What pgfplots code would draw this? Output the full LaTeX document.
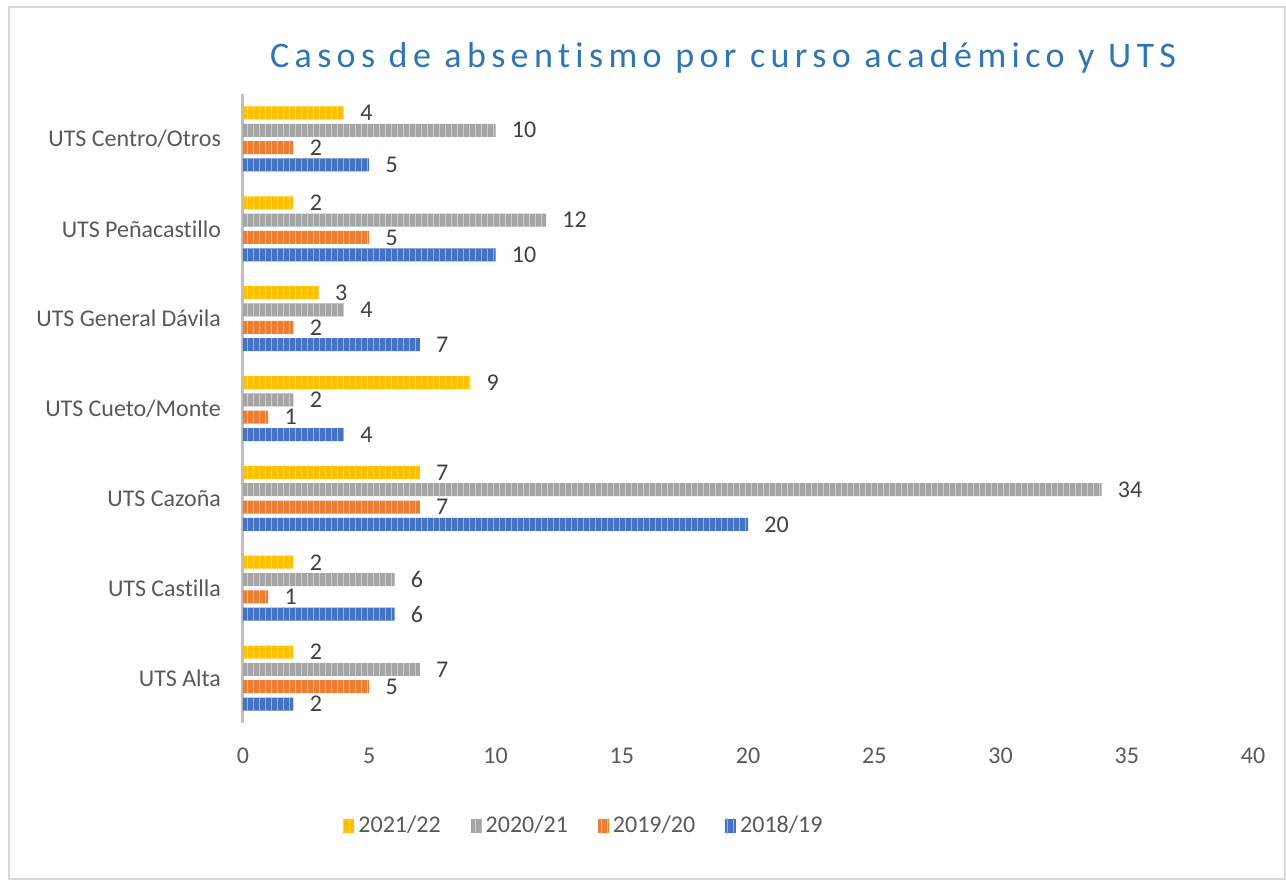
\documentclass[border=0pt]{standalone}
\usepackage{fontspec}
\setmainfont{Carlito}[Ligatures=NoCommon]
\usepackage{pgfplots}
\pgfplotsset{compat=1.18}
\usetikzlibrary{patterns}
\definecolor{cyel}{HTML}{FFC000}
\definecolor{cgray}{HTML}{A5A5A5}
\definecolor{cora}{HTML}{ED7D31}
\definecolor{cblue}{HTML}{4472C4}
\definecolor{ctitle}{HTML}{2E75B6}
\definecolor{ctxt}{HTML}{595959}
\definecolor{clab}{HTML}{404040}
\begin{document}
\begin{tikzpicture}
\path[use as bounding box] (0pt,0pt) rectangle (643pt,440pt);
\draw[color=black!15, line width=0.6pt] (4.5pt,0.5pt) rectangle (642.5pt,436.5pt);
\node[font=\fontsize{18}{20}\selectfont\addfontfeatures{LetterSpace=15}, text=ctitle] at (361.5pt,411pt) {Casos de absentismo por curso académico y UTS};
\begin{axis}[
  at={(121.5pt,78.5pt)}, anchor=south west,
  scale only axis, width=505pt, height=314.5pt,
  xbar, bar width=6.5pt,
  xmin=0, xmax=40, ymin=-0.5, ymax=6.5,
  xtick={0,5,...,40},
  ytick={0,...,6},
  yticklabels={UTS Alta,UTS Castilla,UTS Cazoña,UTS Cueto/Monte,UTS General Dávila,UTS Peñacastillo,UTS Centro/Otros},
  major tick length=0pt,
  axis lines*=left,
  axis line style={-},
  x axis line style={draw=none},
  y axis line style={draw=black!25, line width=1.5pt},
  tick label style={font=\fontsize{12}{14}\selectfont, text=ctxt},
  yticklabel style={xshift=-7.5pt},
  xticklabel style={yshift=-9pt},
  /pgf/number format/assume math mode=true,
  nodes near coords,
  nodes near coords style={anchor=west, xshift=4.7pt, font=\fontsize{12}{14}\selectfont, text=clab},
  legend style={at={(0.3386,-0.1638)}, anchor=center, draw=none, legend columns=4, font=\fontsize{12}{14}\selectfont, text=ctxt,
    /tikz/every even column/.append style={column sep=13pt}},
  legend cell align=left,
  reverse legend,
  legend image code/.code={\path[#1] (0pt,-3.7pt) rectangle (5.5pt,3.7pt);},
]
\addplot[draw=none, fill=cblue, postaction={pattern=vertical lines, pattern color=white!45!cblue}, bar shift=-13pt]
 coordinates {(2,0) (6,1) (20,2) (4,3) (7,4) (10,5) (5,6)};
\addplot[draw=none, fill=cora, postaction={pattern=vertical lines, pattern color=white!45!cora}, bar shift=-4.33pt]
 coordinates {(5,0) (1,1) (7,2) (1,3) (2,4) (5,5) (2,6)};
\addplot[draw=none, fill=cgray, postaction={pattern=vertical lines, pattern color=white!45!cgray}, bar shift=4.33pt]
 coordinates {(7,0) (6,1) (34,2) (2,3) (4,4) (12,5) (10,6)};
\addplot[draw=none, fill=cyel, postaction={pattern=vertical lines, pattern color=white!45!cyel}, bar shift=13pt]
 coordinates {(2,0) (2,1) (7,2) (9,3) (3,4) (2,5) (4,6)};
\legend{2018/19,2019/20,2020/21,2021/22}
\end{axis}
\end{tikzpicture}
\end{document}
